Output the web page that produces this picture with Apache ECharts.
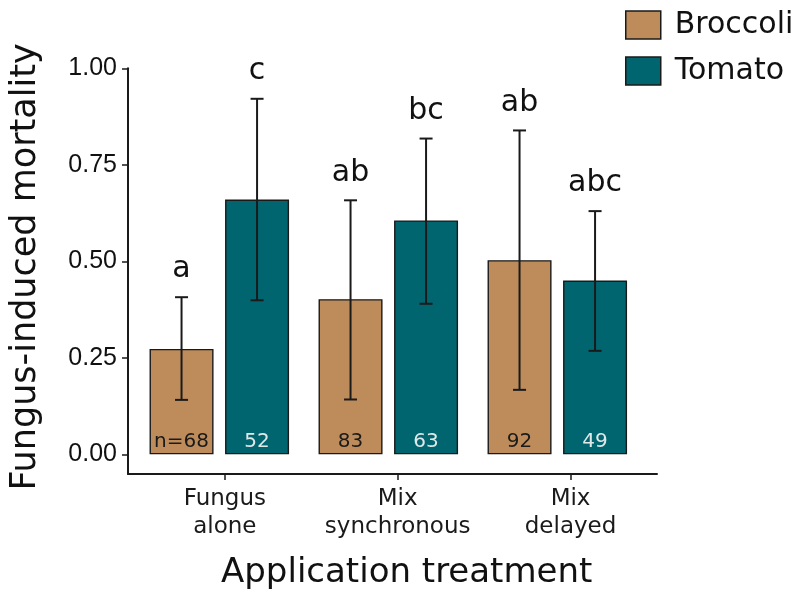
<!DOCTYPE html>
<html>
<head>
<meta charset="utf-8">
<script src="https://cdn.jsdelivr.net/npm/echarts@6/dist/echarts.min.js"></script>
<style>
  html, body { margin: 0; padding: 0; background: #ffffff; }
  #chart { width: 798px; height: 595px; }
</style>
</head>
<body>
<div id="chart"></div>
<script>
// Treatments on the x axis
const categories = ['Fungus\nalone', 'Mix\nsynchronous', 'Mix\ndelayed'];

// Mean fungus-induced mortality with lower / upper interval bounds
const broccoliMean  = [0.273, 0.402, 0.503];
const broccoliLower = [0.141, 0.142, 0.167];
const broccoliUpper = [0.407, 0.658, 0.839];

const tomatoMean  = [0.660, 0.606, 0.450];
const tomatoLower = [0.399, 0.390, 0.268];
const tomatoUpper = [0.921, 0.818, 0.630];

// Post-hoc group letters
const broccoliLetters = ['a', 'ab', 'ab'];
const tomatoLetters   = ['c', 'bc', 'abc'];

// Sample sizes
const broccoliN = [68, 83, 92];
const tomatoN   = [52, 63, 49];

// Y-axis ticks
const yTicks = [0, 0.25, 0.5, 0.75, 1];

const BAR_WIDTH = 64;
const BAR_GAP = 0.18;
const HALF_STEP = (BAR_WIDTH * (1 + BAR_GAP)) / 2;
const INK = '#1a1a1a';
const SANS = 'DejaVu Sans';

function intervalRenderer(side, letters, sizes, nColor) {
  return function (params, api) {
    const i = api.value(0);
    const hi = api.coord([i, api.value(3)]);
    const lo = api.coord([i, api.value(2)]);
    const zero = api.coord([i, 0]);
    const x = hi[0] + side * HALF_STEP;
    const cap = 6.5;
    const lineStyle = { stroke: INK, lineWidth: 2 };
    const nText = i === 0 && side < 0 ? 'n=' + sizes[i] : String(sizes[i]);
    return {
      type: 'group',
      children: [
        { type: 'line', shape: { x1: x, y1: hi[1], x2: x, y2: lo[1] }, style: lineStyle },
        { type: 'line', shape: { x1: x - cap, y1: hi[1], x2: x + cap, y2: hi[1] }, style: lineStyle },
        { type: 'line', shape: { x1: x - cap, y1: lo[1], x2: x + cap, y2: lo[1] }, style: lineStyle },
        {
          type: 'text',
          style: {
            text: letters[i], x: x, y: hi[1] - 27.6,
            align: 'center', verticalAlign: 'middle',
            font: '30px "' + SANS + '"', fill: '#111111'
          }
        },
        {
          type: 'text',
          style: {
            text: nText, x: x, y: zero[1] - 13,
            align: 'center', verticalAlign: 'middle',
            font: '20px "' + SANS + '"', fill: nColor
          }
        }
      ]
    };
  };
}

const chart = echarts.init(document.getElementById('chart'), null, { renderer: 'canvas' });

const option = {
  animation: false,
  backgroundColor: '#ffffff',
  legend: {
    data: ['Broccoli', 'Tomato'],
    orient: 'vertical',
    left: 625,
    top: 10,
    padding: 0,
    itemWidth: 35,
    itemHeight: 28,
    itemGap: 16,
    icon: 'rect',
    itemStyle: { borderColor: INK, borderWidth: 1.5 },
    textStyle: {
      fontFamily: SANS, fontSize: 30, color: '#111111',
      lineHeight: 30, padding: [0, 0, 0, 9]
    }
  },
  grid: [
    { left: 134.8, top: 68.3, width: 507, height: 386 },
    { left: 128, top: 68.3, right: 141, bottom: 121 }
  ],
  xAxis: [
    { type: 'category', gridIndex: 0, data: categories, show: false },
    {
      type: 'value', gridIndex: 1, min: -0.56, max: 2.5,
      splitLine: { show: false },
      axisLine: { show: true, onZero: false, lineStyle: { color: INK, width: 2 } },
      axisTick: { show: true, customValues: [0, 1, 2], length: 6, lineStyle: { color: INK, width: 1.5 } },
      axisLabel: {
        customValues: [0, 1, 2],
        formatter: v => categories[Math.round(v)],
        fontFamily: SANS, fontSize: 23, lineHeight: 28, color: INK, margin: 11
      }
    }
  ],
  yAxis: [
    { type: 'value', gridIndex: 0, min: 0, max: 1, show: false },
    {
      type: 'value', gridIndex: 1, min: -0.051, max: 1,
      splitLine: { show: false },
      axisLine: { show: true, onZero: false, lineStyle: { color: INK, width: 2 } },
      axisTick: { show: true, customValues: yTicks, length: 6, lineStyle: { color: INK, width: 1.5 } },
      axisLabel: {
        customValues: yTicks,
        formatter: v => v.toFixed(2),
        fontFamily: 'Liberation Sans', fontSize: 25, color: '#111111', margin: 11
      }
    }
  ],
  series: [
    {
      name: 'Broccoli', type: 'bar', xAxisIndex: 0, yAxisIndex: 0,
      data: broccoliMean, barWidth: BAR_WIDTH, barGap: (BAR_GAP * 100) + '%',
      itemStyle: { color: '#BE8C5A', borderColor: INK, borderWidth: 1.4 }
    },
    {
      name: 'Tomato', type: 'bar', xAxisIndex: 0, yAxisIndex: 0,
      data: tomatoMean, barWidth: BAR_WIDTH, barGap: (BAR_GAP * 100) + '%',
      itemStyle: { color: '#01656F', borderColor: INK, borderWidth: 1.4 }
    },
    {
      name: 'Broccoli interval', type: 'custom', xAxisIndex: 0, yAxisIndex: 0,
      data: broccoliMean.map((m, i) => [i, m, broccoliLower[i], broccoliUpper[i]]),
      renderItem: intervalRenderer(-1, broccoliLetters, broccoliN, '#1a1a1a'),
      z: 5
    },
    {
      name: 'Tomato interval', type: 'custom', xAxisIndex: 0, yAxisIndex: 0,
      data: tomatoMean.map((m, i) => [i, m, tomatoLower[i], tomatoUpper[i]]),
      renderItem: intervalRenderer(1, tomatoLetters, tomatoN, '#dfe9ea'),
      z: 5
    }
  ],
  graphic: [
    {
      type: 'text', x: 26, y: 267, rotation: Math.PI / 2,
      style: {
        text: 'Fungus-induced mortality', align: 'center', verticalAlign: 'middle',
        font: '35px "' + SANS + '"', fill: '#111111'
      }
    },
    {
      type: 'text', x: 406.7, y: 573,
      style: {
        text: 'Application treatment', align: 'center', verticalAlign: 'middle',
        font: '34px "' + SANS + '"', fill: '#111111'
      }
    }
  ]
};

chart.setOption(option);
</script>
</body>
</html>
